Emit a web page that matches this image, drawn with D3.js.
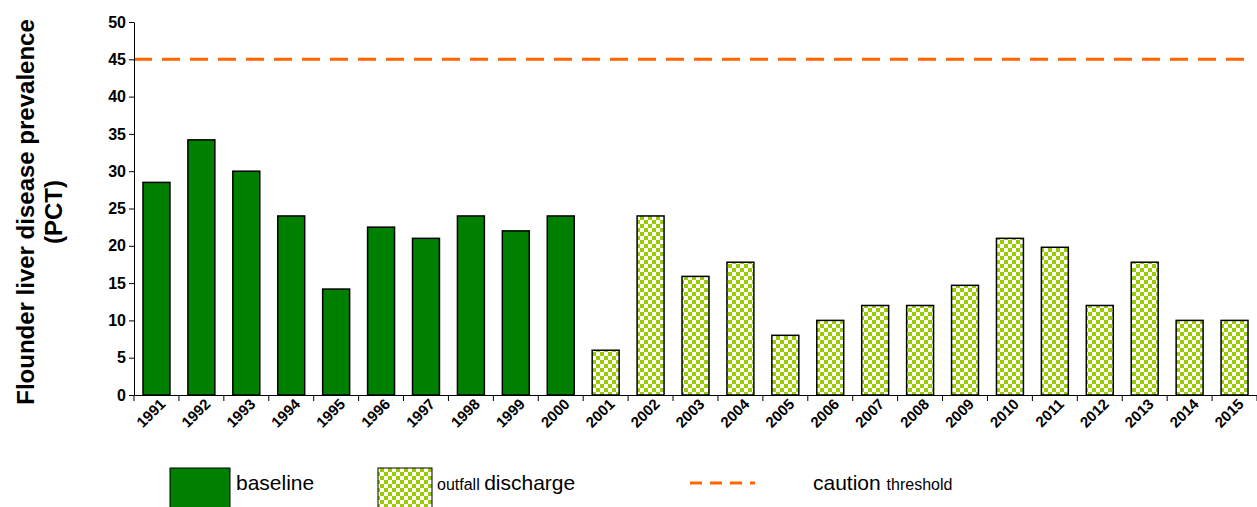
<!DOCTYPE html>
<html><head><meta charset="utf-8">
<script src="https://cdn.jsdelivr.net/npm/d3@7"></script>
<style>body{margin:0;background:#fff}text{font-family:Arial,"Liberation Sans",sans-serif}</style>
</head><body><svg id="c" width="1257" height="507"></svg>
<script>
const years = d3.range(1991, 2016).map(String);
const values = [28.5, 34.2, 30, 24, 14.2, 22.5, 21, 24, 22, 24, 6, 24, 15.9, 17.8, 8, 10, 12, 12, 14.7, 21, 19.8, 12, 17.8, 10, 10];
const baselineYears = years.slice(0, 10);
const yTicks = d3.range(0, 55, 5);
const threshold = 45;

const svg = d3.select('#c');
const x = d3.scaleBand().domain(years).range([134, 1257]).paddingInner(0.4).paddingOuter(0.2);
const y = d3.scaleLinear().domain([0, 50]).range([395, 22]);

const defs = svg.append('defs');
const pat = defs.append('pattern').attr('id', 'chk').attr('patternUnits', 'userSpaceOnUse')
  .attr('width', 8).attr('height', 8);
pat.append('rect').attr('width', 8).attr('height', 8).attr('fill', '#fff');
pat.append('rect').attr('width', 4).attr('height', 4).attr('fill', '#99cc00');
pat.append('rect').attr('x', 4).attr('y', 4).attr('width', 4).attr('height', 4).attr('fill', '#99cc00');

const fillFor = (yr) => baselineYears.includes(yr) ? '#008000' : 'url(#chk)';

svg.append('g').selectAll('rect').data(years).join('rect')
  .attr('x', (d) => x(d)).attr('width', x.bandwidth())
  .attr('y', (d, i) => y(values[i])).attr('height', (d, i) => y(0) - y(values[i]))
  .attr('fill', fillFor).attr('stroke', '#000').attr('stroke-width', 1.5);

svg.append('line').attr('x1', 134).attr('x2', 1245).attr('y1', y(threshold)).attr('y2', y(threshold))
  .attr('stroke', '#ff6600').attr('stroke-width', 3).attr('stroke-dasharray', '18,10');

const yAxis = svg.append('g').attr('transform', 'translate(134,0)')
  .call(d3.axisLeft(y).tickValues(yTicks).tickSize(5).tickSizeOuter(0));
yAxis.selectAll('text').attr('font-size', 16).attr('font-weight', 'bold').attr('fill', '#000');

const xAxis = svg.append('g').attr('transform', 'translate(0,395)')
  .call(d3.axisBottom(x).tickSize(0).tickSizeOuter(0));
xAxis.selectAll('.tick line').remove();
xAxis.selectAll('.tick').each(function (d) {
  const off = x.step() / 2;
  d3.select(this).append('line').attr('x1', off).attr('x2', off).attr('y2', 6).attr('stroke', '#000');
});
svg.append('line').attr('x1', 134).attr('x2', 134).attr('y1', 395).attr('y2', 401).attr('stroke', '#000');
xAxis.selectAll('text').attr('font-size', 15).attr('font-weight', 'bold').attr('fill', '#000')
  .attr('text-anchor', 'end').attr('y', 0).attr('dy', 0)
  .attr('transform', 'translate(10,10) rotate(-45)');
svg.selectAll('.domain').attr('stroke', '#000');

svg.append('text').attr('transform', 'translate(34,212) rotate(-90)').attr('text-anchor', 'middle')
  .attr('font-size', 24).attr('font-weight', 'bold').text('Flounder liver disease prevalence');
svg.append('text').attr('transform', 'translate(62,212) rotate(-90)').attr('text-anchor', 'middle')
  .attr('font-size', 24).attr('font-weight', 'bold').text('(PCT)');

const lg = svg.append('g');
lg.append('rect').attr('x', 170).attr('y', 468).attr('width', 60).attr('height', 42).attr('fill', '#008000').attr('stroke', '#000');
lg.append('text').attr('x', 236).attr('y', 490).attr('font-size', 21).text('baseline');
lg.append('rect').attr('x', 378).attr('y', 468).attr('width', 54).attr('height', 42).attr('fill', 'url(#chk)').attr('stroke', '#000');
const t2 = lg.append('text').attr('x', 437).attr('y', 490);
t2.append('tspan').attr('font-size', 16).text('outfall ');
t2.append('tspan').attr('font-size', 21).text('discharge');
lg.append('line').attr('x1', 690).attr('x2', 755).attr('y1', 483).attr('y2', 483)
  .attr('stroke', '#ff6600').attr('stroke-width', 3).attr('stroke-dasharray', '12,8');
const t3 = lg.append('text').attr('x', 813).attr('y', 490);
t3.append('tspan').attr('font-size', 21).text('caution ');
t3.append('tspan').attr('font-size', 16).text('threshold');
</script></body></html>
